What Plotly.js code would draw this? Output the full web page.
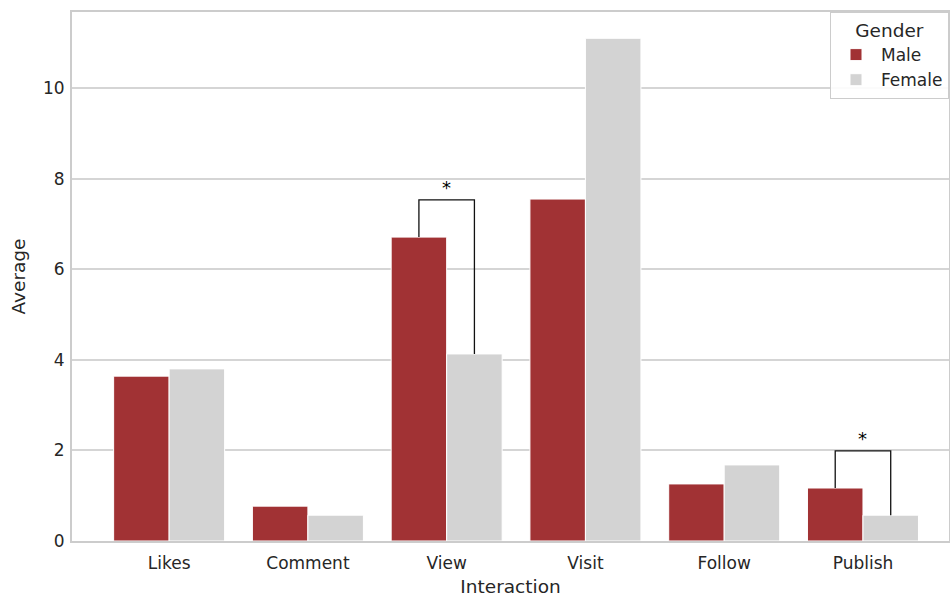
<!DOCTYPE html>
<html>
<head>
<meta charset="utf-8">
<script src="https://cdn.plot.ly/plotly-3.0.1.min.js"></script>
<style>html,body{margin:0;padding:0;background:#fff;}#chart{width:950px;height:597px;}</style>
</head>
<body>
<div id="chart"></div>
<script>
const categories = ['Likes', 'Comment', 'View', 'Visit', 'Follow', 'Publish'];
const maleValues = [3.64, 0.77, 6.71, 7.55, 1.26, 1.17];
const femaleValues = [3.80, 0.57, 4.13, 11.10, 1.68, 0.57];
const sigCategories = ['View', 'Publish'];
const sigHeights = [7.53, 1.99];
const sigLabels = ['*', '*'];

const xIdx = categories.map((c, i) => i);
const font = {family: 'DejaVu Sans, sans-serif', color: '#262626'};

const traces = [
  {type: 'bar', name: 'Male', x: xIdx, y: maleValues,
   marker: {color: '#a13234', line: {color: '#ffffff', width: 1}}},
  {type: 'bar', name: 'Female', x: xIdx, y: femaleValues,
   marker: {color: '#d3d3d3', line: {color: '#ffffff', width: 1}}}
];

const off = 0.2;
const annotations = [];
sigCategories.forEach((c, k) => {
  const i = categories.indexOf(c);
  const h = sigHeights[k];
  traces.push({type: 'scatter', mode: 'lines', showlegend: false, hoverinfo: 'skip',
    x: [i - off, i - off, i + off, i + off],
    y: [maleValues[i], h, h, femaleValues[i]],
    line: {color: '#111111', width: 1.3}});
  annotations.push({x: i, y: h, text: sigLabels[k], showarrow: false, yanchor: 'bottom', yshift: 0,
    font: {family: font.family, size: 18, color: '#000000'}});
});

const layout = {
  width: 950, height: 597,
  margin: {l: 72, r: 1, t: 12, b: 56},
  paper_bgcolor: '#ffffff', plot_bgcolor: '#ffffff',
  barmode: 'group', bargap: 0.2, bargroupgap: 0,
  font: {family: font.family, size: 17, color: '#262626'},
  xaxis: {
    range: [-0.70, 5.62], tickvals: xIdx, ticktext: categories,
    showgrid: false, zeroline: false, showline: true, mirror: true,
    linecolor: '#cccccc', linewidth: 2, ticks: '', ticklabelstandoff: 6,
    tickfont: {size: 17, color: '#262626'},
    title: {text: 'Interaction', font: {size: 18.5, color: '#262626'}, standoff: 8}
  },
  yaxis: {
    range: [0, 11.68], tickvals: [0, 2, 4, 6, 8, 10],
    showgrid: true, gridcolor: '#d5d5d5', gridwidth: 2, zeroline: false,
    showline: true, mirror: true, linecolor: '#cccccc', linewidth: 2, ticks: '', ticklabelstandoff: 2,
    tickfont: {size: 17, color: '#262626'},
    title: {text: 'Average', font: {size: 18.5, color: '#262626'}, standoff: 12}
  },
  legend: {
    x: 1, y: 1, xanchor: 'right', yanchor: 'top',
    bgcolor: 'rgba(255,255,255,0.9)', bordercolor: '#cccccc', borderwidth: 1,
    font: {size: 17, color: '#262626'}, itemwidth: 40, tracegroupgap: 4,
    title: {text: 'Gender', side: 'top center', font: {size: 18.5, color: '#262626'}},
    traceorder: 'normal'
  },
  annotations: annotations,
  showlegend: true
};

Plotly.newPlot('chart', traces, layout, {displayModeBar: false, staticPlot: true});
</script>
</body>
</html>
